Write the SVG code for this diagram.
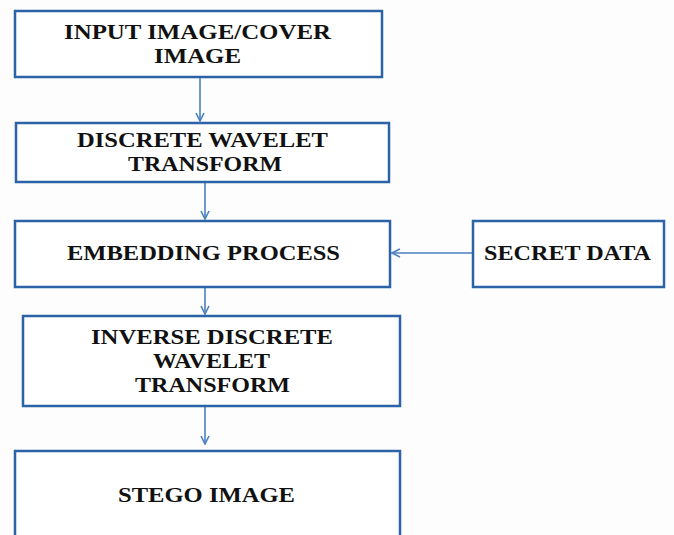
<svg xmlns="http://www.w3.org/2000/svg" width="674" height="535" viewBox="0 0 674 535">
<defs>
<style>
.box{fill:#fff;stroke:#2b63a6;stroke-width:2.5}
.t{font-family:"Liberation Serif","Times New Roman",serif;font-weight:bold;font-size:20px;fill:#111;text-anchor:middle}
.c{stroke:#4a80bf;stroke-width:1.6;fill:none}
</style>
<marker id="ah" viewBox="0 0 10 10" refX="9" refY="5" markerWidth="10" markerHeight="10" markerUnits="userSpaceOnUse" orient="auto">
<path d="M1,1 L9,5 L1,9" fill="none" stroke="#4a80bf" stroke-width="1.6"/>
</marker>
</defs>
<rect width="674" height="535" fill="#fdfdfd"/>
<g id="connectors">
<line class="c" x1="200" y1="77" x2="200" y2="121" marker-end="url(#ah)"/>
<line class="c" x1="205" y1="182" x2="205" y2="219" marker-end="url(#ah)"/>
<line class="c" x1="473" y1="253" x2="392" y2="253" marker-end="url(#ah)"/>
<line class="c" x1="205" y1="287" x2="205" y2="314" marker-end="url(#ah)"/>
<line class="c" x1="205" y1="406" x2="205" y2="444" marker-end="url(#ah)"/>
</g>
<g id="input">
<rect class="box" x="15" y="11" width="367" height="66"/>
<text class="t" x="197.5" y="39" textLength="267" lengthAdjust="spacingAndGlyphs">INPUT IMAGE/COVER</text>
<text class="t" x="197.5" y="63" textLength="87" lengthAdjust="spacingAndGlyphs">IMAGE</text>
</g>
<g id="dwt">
<rect class="box" x="16" y="123" width="373" height="59"/>
<text class="t" x="202.5" y="147" textLength="251" lengthAdjust="spacingAndGlyphs">DISCRETE WAVELET</text>
<text class="t" x="205" y="171" textLength="154" lengthAdjust="spacingAndGlyphs">TRANSFORM</text>
</g>
<g id="embed">
<rect class="box" x="15" y="221" width="375" height="66"/>
<text class="t" x="203.5" y="260" textLength="273" lengthAdjust="spacingAndGlyphs">EMBEDDING PROCESS</text>
</g>
<g id="secret">
<rect class="box" x="473" y="221" width="191" height="66"/>
<text class="t" x="567.5" y="260" textLength="167" lengthAdjust="spacingAndGlyphs">SECRET DATA</text>
</g>
<g id="idwt">
<rect class="box" x="23" y="316" width="377" height="90"/>
<text class="t" x="212" y="344" textLength="242" lengthAdjust="spacingAndGlyphs">INVERSE DISCRETE</text>
<text class="t" x="211.5" y="368" textLength="117" lengthAdjust="spacingAndGlyphs">WAVELET</text>
<text class="t" x="212.5" y="392" textLength="155" lengthAdjust="spacingAndGlyphs">TRANSFORM</text>
</g>
<g id="stego">
<rect class="box" x="15" y="451" width="385" height="100"/>
<text class="t" x="206.5" y="502" textLength="177" lengthAdjust="spacingAndGlyphs">STEGO IMAGE</text>
</g>
</svg>
